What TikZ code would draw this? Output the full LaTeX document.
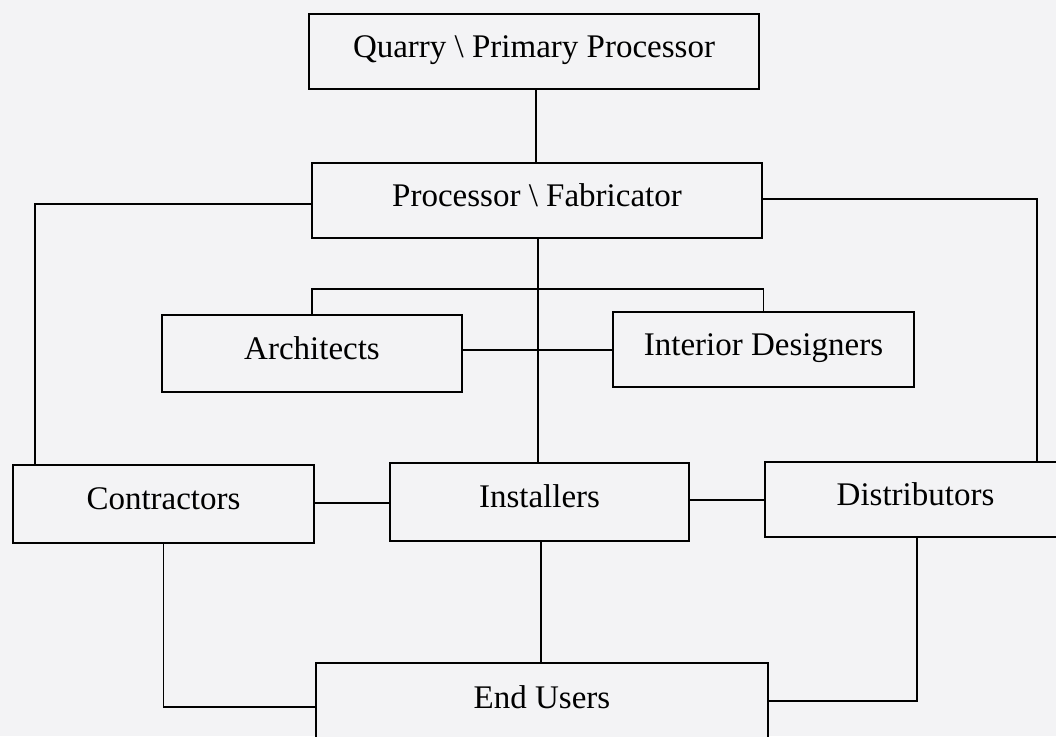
\documentclass[tikz,border=0pt]{standalone}
\usepackage{fontspec}
\setmainfont{Liberation Serif}
\definecolor{paper}{RGB}{243,243,245}
\begin{document}
\begin{tikzpicture}[x=1pt,y=-1pt,
  box/.style={draw=black, line width=1.7pt, fill=paper, rectangle, inner sep=0pt, outer sep=0pt,
    font=\fontsize{33}{36}\selectfont, text=black, text height=22pt, text depth=10.2pt},
  conn/.style={draw=black, line width=1.5pt}]
\useasboundingbox (0,0) rectangle (1056,736);
\fill[paper] (0,0) rectangle (1056,736);
\clip (0,0) rectangle (1056,736);
\coordinate (bl) at (312,289);
\coordinate (br) at (763.5,289);
% nodes
\node[box, minimum width=450pt, minimum height=75pt] (Q) at (534,51.5) {Quarry \textbackslash\ Primary Processor};
\node[box, minimum width=450pt, minimum height=75pt] (P) at (537,200.5) {Processor \textbackslash\ Fabricator};
\node[box, minimum width=300pt, minimum height=77pt] (A) at (312,353.5) {Architects};
\node[box, minimum width=301pt, minimum height=75pt] (I) at (763.5,349.5) {Interior Designers};
\node[box, minimum width=301pt, minimum height=78pt] (C) at (163.5,504) {Contractors};
\node[box, minimum width=299pt, minimum height=78pt] (N) at (539.5,502) {Installers};
\node[box, minimum width=301pt, minimum height=75pt] (D) at (915.5,499.5) {Distributors};
\node[box, minimum width=452pt, minimum height=80pt] (E) at (542,703) {End Users};
% connectors
\draw[conn] (Q.south -| 536,0) -- (P.north -| 536,0);
\draw[conn] (P.west |- 0,204) -| (C.north -| 35,0);
\draw[conn] (P.east |- 0,199) -| (D.north -| 1037,0);
\draw[conn] (P.south -| 538,0) -- (N.north -| 538,0);
\draw[conn] (A.east |- 0,350) -- (I.west |- 0,350);
\draw[conn] (A.north) -- (bl) -- (br) -- (I.north);
\draw[conn] (C.east |- 0,503) -- (N.west |- 0,503);
\draw[conn] (N.east |- 0,500) -- (D.west |- 0,500);
\draw[conn] (C.south) |- (E.west |- 0,707);
\draw[conn] (N.south -| 541,0) -- (E.north -| 541,0);
\draw[conn] (D.south -| 917,0) |- (E.east |- 0,701);
\end{tikzpicture}
\end{document}
